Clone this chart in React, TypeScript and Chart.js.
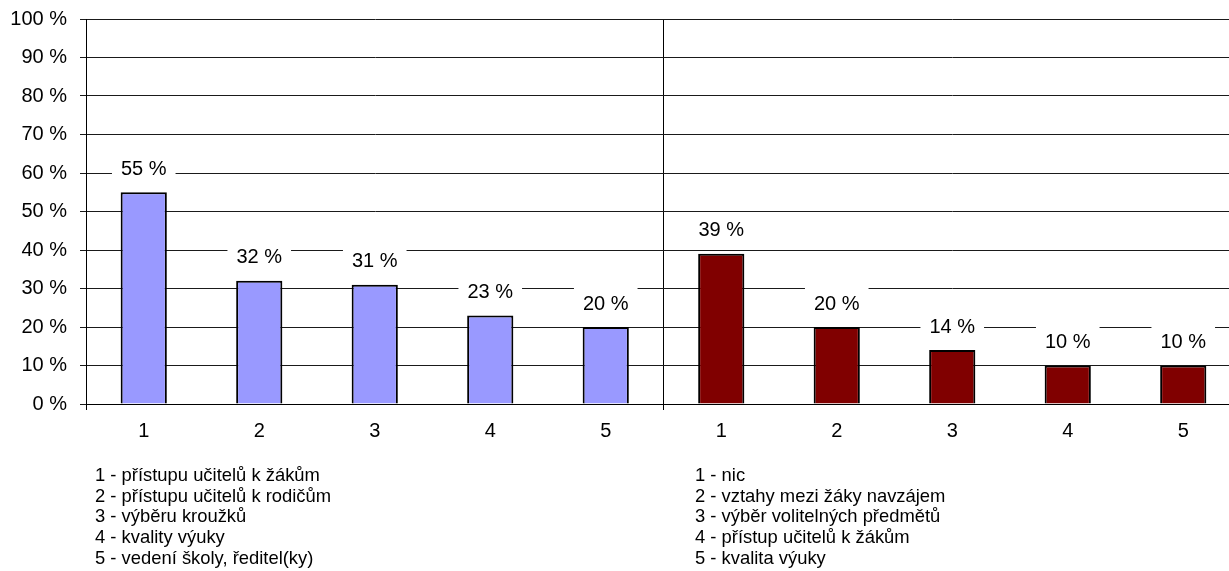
import React, { useEffect, useRef } from "react";
import { Chart, registerables } from "chart.js";

Chart.register(...registerables);

const categories = ["1", "2", "3", "4", "5", "1", "2", "3", "4", "5"];
const leftValues = [55, 32, 31, 23, 20];
const rightValues = [39, 20, 14, 10, 10];
const yMin = 0;
const yMax = 100;
const yStep = 10;
const leftLegend = [
  "1 - přístupu učitelů k žákům",
  "2 - přístupu učitelů k rodičům",
  "3 - výběru kroužků",
  "4 - kvality výuky",
  "5 - vedení školy, ředitel(ky)",
];
const rightLegend = [
  "1 - nic",
  "2 - vztahy mezi žáky navzájem",
  "3 - výběr volitelných předmětů",
  "4 - přístup učitelů k žákům",
  "5 - kvalita výuky",
];

const FONT = "'Liberation Sans', Arial, sans-serif";
const CANVAS_W = 1242;
const CANVAS_H = 571;

const valueLabels = {
  id: "valueLabels",
  afterDatasetsDraw(chart: any) {
    const ctx = chart.ctx;
    ctx.save();
    ctx.font = `20px ${FONT}`;
    ctx.textAlign = "center";
    ctx.textBaseline = "middle";
    chart.data.datasets.forEach((ds: any, di: number) => {
      const meta = chart.getDatasetMeta(di);
      meta.data.forEach((el: any, i: number) => {
        const v = ds.data[i];
        if (v === null || v === undefined) return;
        const text = `${v} %`;
        const cy = el.y - 23;
        const w = ctx.measureText(text).width;
        ctx.fillStyle = "#ffffff";
        ctx.fillRect(el.x - w / 2 - 9, cy - 17, w + 18, 32);
        ctx.fillStyle = "#000000";
        ctx.fillText(text, el.x, cy);
      });
    });
    ctx.restore();
  },
};

export default function App() {
  const ref = useRef<HTMLCanvasElement | null>(null);

  useEffect(() => {
    if (!ref.current) return;
    const half = leftValues.length;
    const leftData = categories.map((_, i) => (i < half ? leftValues[i] : null));
    const rightData = categories.map((_, i) => (i >= half ? rightValues[i - half] : null));

    const chart = new Chart(ref.current, {
      type: "bar",
      data: {
        labels: categories,
        datasets: [
          {
            data: leftData,
            backgroundColor: "#9999FF",
            borderColor: "#000000",
            borderWidth: 2,
            barPercentage: 0.4,
            categoryPercentage: 1,
          },
          {
            data: rightData,
            backgroundColor: "#800000",
            borderColor: "#000000",
            borderWidth: 2,
            barPercentage: 0.4,
            categoryPercentage: 1,
          },
        ],
      },
      options: {
        responsive: false,
        animation: false,
        events: [],
        layout: { padding: { top: 19, left: 0, right: 1, bottom: 0 } },
        plugins: {
          legend: { display: false },
          tooltip: { enabled: false },
          title: { display: false },
        },
        scales: {
          x: {
            stacked: true,
            offset: true,
            grid: {
              offset: true,
              drawOnChartArea: true,
              tickLength: 6,
              lineWidth: 1,
              color: (c: any) => (c.index === 0 || c.index === half ? "#000000" : "rgba(0,0,0,0)"),
            },
            border: { display: true, color: "#000000", width: 1 },
            ticks: {
              color: "#000000",
              font: { family: FONT, size: 20 },
              padding: 9,
              maxRotation: 0,
              autoSkip: false,
            },
            afterFit: (s: any) => {
              s.height = CANVAS_H - 404;
              s.paddingLeft = 0;
              s.paddingRight = 0;
            },
          },
          y: {
            min: yMin,
            max: yMax,
            grid: {
              color: "#1a1a1a",
              lineWidth: 1,
              tickLength: 6,
              drawTicks: true,
            },
            border: { display: true, color: "#000000", width: 1 },
            ticks: {
              stepSize: yStep,
              color: "#000000",
              font: { family: FONT, size: 20 },
              padding: 13,
              callback: (v: any) => `${v} %`,
            },
            afterFit: (s: any) => {
              s.width = 86;
              s.paddingTop = 0;
              s.paddingBottom = 0;
            },
          },
        },
      },
      plugins: [valueLabels],
    });
    return () => chart.destroy();
  }, []);

  const legendStyle = (left: number): React.CSSProperties => ({
    position: "absolute",
    left,
    top: 465,
    font: `18.4px ${FONT}`,
    lineHeight: "20.7px",
    color: "#000",
    whiteSpace: "nowrap",
  });

  return (
    <div
      style={{
        position: "absolute",
        left: 0,
        top: 0,
        width: 1229,
        height: 571,
        overflow: "hidden",
        background: "#fff",
      }}
    >
      <canvas
        ref={ref}
        width={CANVAS_W}
        height={CANVAS_H}
        style={{ position: "absolute", left: 0, top: 0, width: CANVAS_W, height: CANVAS_H }}
      />
      <div style={legendStyle(95)}>
        {leftLegend.map((t, i) => (
          <div key={i}>{t}</div>
        ))}
      </div>
      <div style={legendStyle(695)}>
        {rightLegend.map((t, i) => (
          <div key={i}>{t}</div>
        ))}
      </div>
    </div>
  );
}
